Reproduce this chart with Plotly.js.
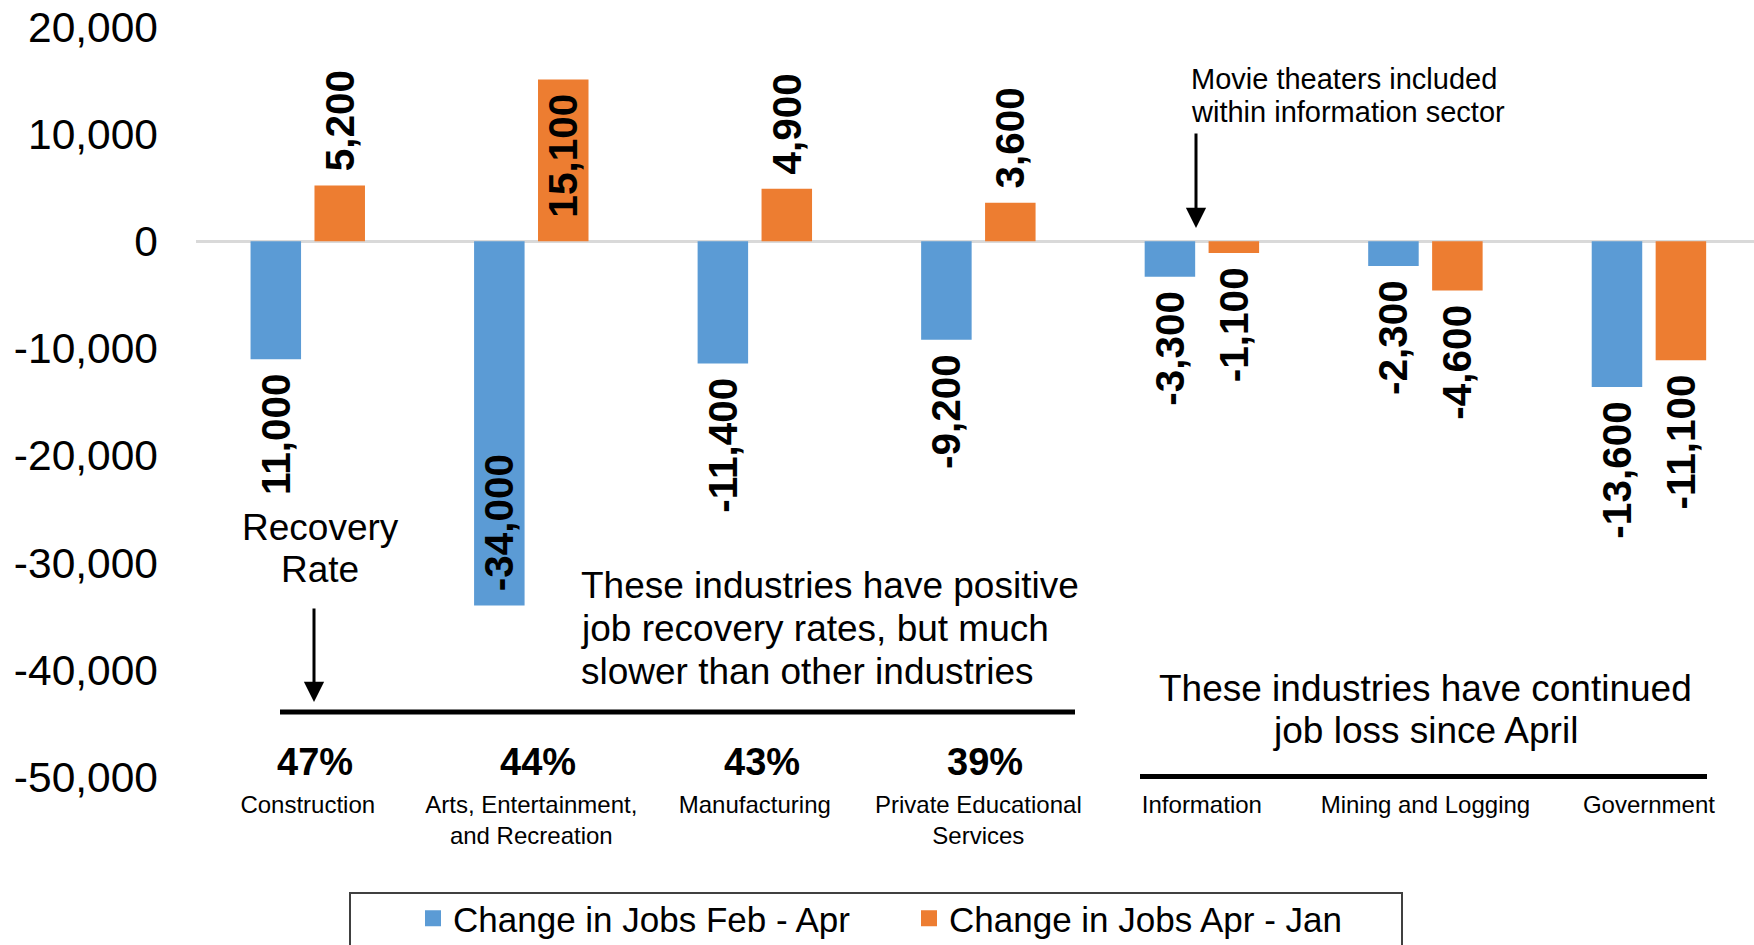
<!DOCTYPE html>
<html><head><meta charset="utf-8">
<script src="https://cdn.plot.ly/plotly-3.0.1.min.js"></script>
<style>html,body{margin:0;padding:0;background:#fff}</style>
</head><body><div id="chart" style="width:1754px;height:945px"></div>
<script>
const categories = ["Construction","Arts, Entertainment, and Recreation","Manufacturing","Private Educational Services","Information","Mining and Logging","Government"];
const categoryLabels = ["Construction","Arts, Entertainment,<br>and Recreation","Manufacturing","Private Educational<br>Services","Information","Mining and Logging","Government"];
const seriesNames = ["Change in Jobs Feb - Apr","Change in Jobs Apr - Jan"];
const febAprChange = [-11000,-34000,-11400,-9200,-3300,-2300,-13600];
const aprJanChange = [5200,15100,4900,3600,-1100,-4600,-11100];
const febAprLabels = ["11,000","-34,000","-11,400","-9,200","-3,300","-2,300","-13,600"];
const aprJanLabels = ["5,200","15,100","4,900","3,600","-1,100","-4,600","-11,100"];
const recoveryCategories = ["Construction","Arts, Entertainment, and Recreation","Manufacturing","Private Educational Services"];
const recoveryRates = ["47%","44%","43%","39%"];
const yTickVals = [20000,10000,0,-10000,-20000,-30000,-40000,-50000];
const yTickText = ["20,000","10,000","0","-10,000","-20,000","-30,000","-40,000","-50,000"];

const FONT = "Liberation Sans, Arial, sans-serif";
const BLUE = "#5B9BD5", ORANGE = "#ED7D31";
const NB = "\u00A0";
const P = px => (px - 196) / 1558;   // pixel -> paper x
const Q = py => (777 - py) / 750;    // pixel -> paper y

function padLabels(labels, values, positions) {
  return labels.map((t, i) => {
    const inside = positions[i] === 'inside';
    const lead = (values[i] > 0) !== inside;
    return lead ? NB + t : t + NB;
  });
}
const posBlue = ['outside','inside','outside','outside','outside','outside','outside'];
const posOrange = ['outside','inside','outside','outside','outside','outside','outside'];

const labelFont = {family: FONT, size: 40.5, color: '#000', weight: 'bold'};
function barTrace(name, values, labels, color, positions) {
  return {
    type: 'bar', name: name, x: categories, y: values, legendgroup: name, showlegend: false,
    marker: {color: color},
    text: padLabels(labels, values, positions),
    textposition: positions,
    textangle: -90,
    insidetextanchor: 'end',
    constraintext: 'none',
    cliponaxis: false,
    textfont: labelFont, insidetextfont: labelFont, outsidetextfont: labelFont,
    hoverinfo: 'x+y'
  };
}
function legendKey(name, color) {
  return {type: 'scatter', mode: 'markers', name: name, legendgroup: name, x: [null], y: [null],
    marker: {symbol: 'square', size: 18, color: color}, hoverinfo: 'skip'};
}

const data = [
  barTrace(seriesNames[0], febAprChange, febAprLabels, BLUE, posBlue),
  barTrace(seriesNames[1], aprJanChange, aprJanLabels, ORANGE, posOrange),
  legendKey(seriesNames[0], BLUE),
  legendKey(seriesNames[1], ORANGE)
];

function txt(text, x, y, size, anchor, extra) {
  return Object.assign({text: text, x: x, y: y, xref: 'paper', yref: 'paper', xanchor: anchor, yanchor: 'middle',
    showarrow: false, font: {family: FONT, size: size, color: '#000'}}, extra || {});
}

const annotations = [];
recoveryCategories.forEach((c, i) => {
  annotations.push({text: recoveryRates[i], x: c, xref: 'x', y: Q(762), yref: 'paper', xshift: 7,
    xanchor: 'center', yanchor: 'middle', showarrow: false,
    font: {family: FONT, size: 38, color: '#000', weight: 'bold'}});
});
annotations.push(txt("Recovery", P(320), Q(527), 37, 'center'));
annotations.push(txt("Rate", P(320), Q(569), 37, 'center'));
annotations.push(txt("These industries have positive", P(579), Q(585), 37, 'left'));
annotations.push(txt("job recovery rates, but much", P(579), Q(628), 37, 'left'));
annotations.push(txt("slower than other industries", P(579), Q(671), 37, 'left'));
annotations.push(txt("These industries have continued", P(1425.5), Q(688), 37, 'center'));
annotations.push(txt("job loss since April", P(1425.5), Q(730), 37, 'center'));
annotations.push(txt("Movie theaters included", P(1189), Q(79), 29, 'left'));
annotations.push(txt("within information sector", P(1189), Q(112), 29, 'left'));
annotations.push({text: '', x: P(314), y: Q(702), xref: 'paper', yref: 'paper', showarrow: true,
  ax: 0, ay: -95, arrowhead: 2, arrowwidth: 3, arrowsize: 1.35, arrowcolor: '#000'});
annotations.push({text: '', x: P(1196), y: Q(228), xref: 'paper', yref: 'paper', showarrow: true,
  ax: 0, ay: -96, arrowhead: 2, arrowwidth: 3, arrowsize: 1.35, arrowcolor: '#000'});

const shapes = [
  {type: 'line', xref: 'paper', yref: 'paper', x0: P(280), x1: P(1075), y0: Q(712), y1: Q(712), line: {color: '#000', width: 5}},
  {type: 'line', xref: 'paper', yref: 'paper', x0: P(1140), x1: P(1707), y0: Q(776.5), y1: Q(776.5), line: {color: '#000', width: 5}},
  {type: 'rect', xref: 'paper', yref: 'paper', x0: P(350), x1: P(1402), y0: Q(893), y1: Q(960), line: {color: '#404040', width: 2}, fillcolor: 'rgba(0,0,0,0)', layer: 'below'}
];

const layout = {
  width: 1754, height: 945,
  margin: {l: 196, r: 0, t: 27, b: 168, autoexpand: false},
  paper_bgcolor: '#fff', plot_bgcolor: '#fff',
  font: {family: FONT, color: '#000'},
  barmode: 'group', bargap: 0.428, bargroupgap: 0.21,
  showlegend: true,
  legend: {orientation: 'h', x: P(413), xanchor: 'left', y: Q(918.5), yanchor: 'middle',
    font: {family: FONT, size: 35, color: '#000'}, bgcolor: 'rgba(0,0,0,0)', borderwidth: 0,
    entrywidth: 451, entrywidthmode: 'pixels', traceorder: 'normal'},
  xaxis: {type: 'category', range: [-0.5, 6.47], tickvals: categories, ticktext: categoryLabels,
    tickfont: {family: FONT, size: 24, color: '#000'}, showgrid: false, zeroline: false, showline: false,
    ticks: '', ticklabelstandoff: 11, automargin: false, fixedrange: true},
  yaxis: {range: [-50000, 20000], tickvals: yTickVals, ticktext: yTickText,
    tickfont: {family: FONT, size: 42.5, color: '#000'}, showgrid: false, showline: false, ticks: '',
    zeroline: true, zerolinecolor: '#D9D9D9', zerolinewidth: 2.5, ticklabelstandoff: 37, automargin: false, fixedrange: true},
  annotations: annotations,
  shapes: shapes
};

Plotly.newPlot('chart', data, layout, {displayModeBar: false, staticPlot: true});
</script></body></html>
